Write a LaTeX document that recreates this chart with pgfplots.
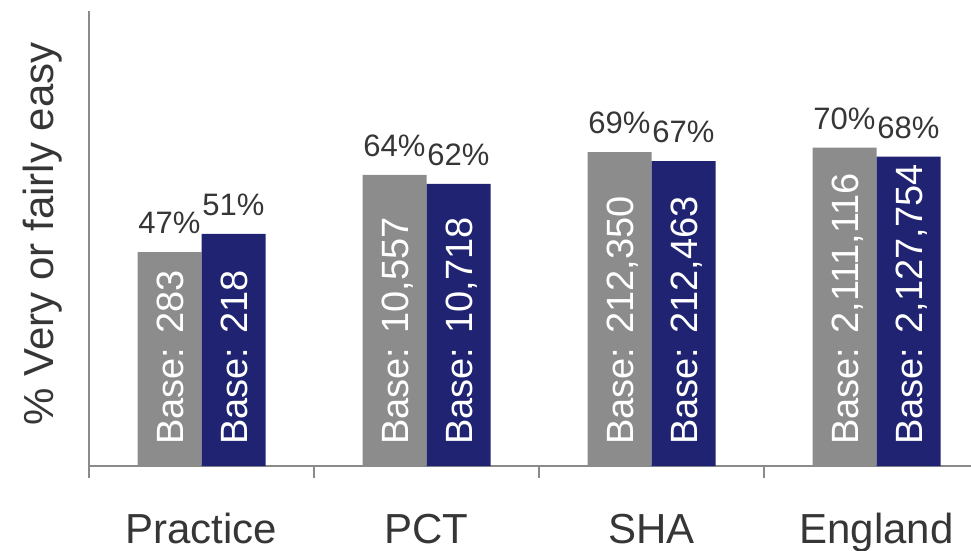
\documentclass[border=0pt]{standalone}
\usepackage{pgfplots}
\pgfplotsset{compat=1.18}
\usepackage{pgfplotstable}
\usepackage{fontspec}
\setmainfont{Liberation Sans}

\definecolor{barGray}{HTML}{8C8C8C}
\definecolor{barNavy}{HTML}{1F2371}
\definecolor{axisGray}{HTML}{8A8A8A}
\definecolor{labelText}{HTML}{363636}

% share of patients answering "very or fairly easy", with survey bases
\pgfplotstableread{
pos  earlier  later  floor  baseEarlier  baseLater
0    47       51     0      283          218
1    64       62     0      10,557       10,718
2    69       67     0      212,350      212,463
3    70       68     0      2,111,116    2,127,754
}\ratings

\begin{document}
\begin{tikzpicture}
\begin{axis}[
  at={(89pt,84pt)}, anchor=south west,
  width=882pt, height=455pt, scale only axis,
  xmin=-0.5, xmax=3.42, ymin=0, ymax=100,
  clip=false,
  axis x line=bottom, axis y line=left,
  axis line style={-, line width=2pt, draw=axisGray},
  ytick=\empty,
  xtick={0,1,2,3},
  xticklabels={Practice,PCT,SHA,England},
  major tick length=0pt,
  xticklabel style={font=\fontsize{42}{50}\selectfont, text=labelText, anchor=base, inner sep=0pt, yshift=-77pt},
  extra x ticks={-0.5,0.5,1.5,2.5},
  extra x tick labels={},
  extra x tick style={major tick length=12pt, tick align=outside,
    tick style={line width=2pt, draw=axisGray}},
  ylabel={\% Very or fairly easy},
  ylabel style={at={(axis description cs:-0.0408,0.51)}, anchor=base,
    font=\fontsize{42}{50}\selectfont, text=labelText, inner sep=0pt},
  pct/.style={
    nodes near coords={\pgfmathprintnumber[assume math mode=true]{\pgfplotspointmeta}\%},
    nodes near coords style={xshift=#1, font=\fontsize{31}{36}\selectfont, text=labelText,
      anchor=base, inner sep=0pt, yshift=18.5pt}},
  base/.style={
    draw=none, fill=none,
    point meta=explicit symbolic,
    nodes near coords={Base: \pgfplotspointmeta},
    nodes near coords style={xshift=#1, font=\fontsize{38}{44}\selectfont, text=white,
      rotate=90, anchor=west, inner xsep=21pt, inner ysep=0pt,
      text height=27.2pt, text depth=0pt}},
]
% bars
\addplot[ybar, bar width=64pt, bar shift=-32pt, fill=barGray, draw=none, pct=-32pt]
  table[x=pos, y=earlier] {\ratings};
\addplot[ybar, bar width=64pt, bar shift=32pt, fill=barNavy, draw=none, pct=32pt]
  table[x=pos, y=later] {\ratings};
% base sizes written upwards inside the bars
\addplot[ybar, bar width=64pt, bar shift=-32pt, base=-32pt]
  table[x=pos, y=floor, meta=baseEarlier] {\ratings};
\addplot[ybar, bar width=64pt, bar shift=32pt, base=32pt]
  table[x=pos, y=floor, meta=baseLater] {\ratings};
\end{axis}
\pgfresetboundingbox
\path[use as bounding box] (0pt,0pt) rectangle (971pt,550pt);
\end{tikzpicture}
\end{document}
